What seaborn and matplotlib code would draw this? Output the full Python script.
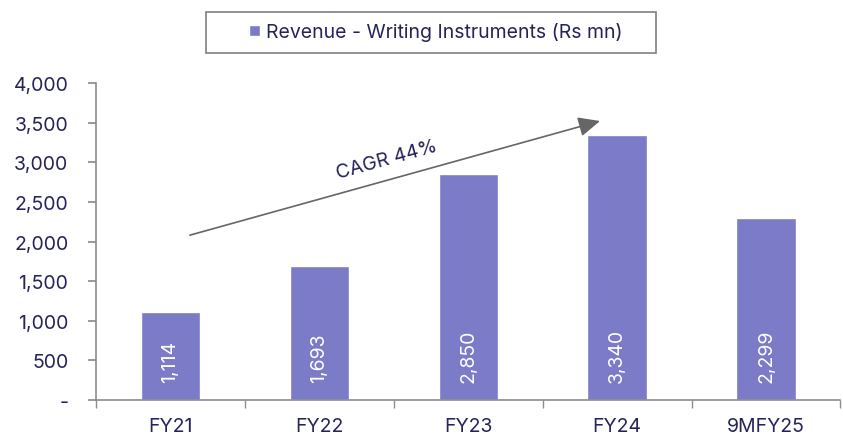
import matplotlib
matplotlib.use("Agg")
import matplotlib.pyplot as plt
import seaborn as sns
import pandas as pd
from matplotlib.ticker import FuncFormatter, FixedLocator
from matplotlib.patches import Rectangle

categories = ["FY21", "FY22", "FY23", "FY24", "9MFY25"]
revenue = [1114, 1693, 2850, 3340, 2299]
series_name = "Revenue - Writing Instruments (Rs mn)"
cagr_label = "CAGR 44%"

sns.set_theme(style="white")
plt.rcParams["font.family"] = ["Inter", "DejaVu Sans"]

navy = "#26235a"
bar_color = "#7b7bc8"
axis_grey = "#8c8c8c"

df = pd.DataFrame({"cat": categories, "val": revenue, "series": series_name})

W, H = 843, 435
fig = plt.figure(figsize=(W / 100, H / 100), dpi=100)
ax = fig.add_axes([0.114, 0.078, 0.883, 0.729])
sns.barplot(data=df, x="cat", y="val", hue="series", palette=[bar_color],
            width=0.4, ax=ax, saturation=1, legend=True)

ax.set_ylim(0, 4000)
ax.set_xlim(-0.5, len(categories) - 0.5)
ax.set_yticks(range(0, 4001, 500))
ax.yaxis.set_major_formatter(FuncFormatter(lambda v, p: "-" if v == 0 else f"{int(v):,}"))
ax.set_xlabel("")
ax.set_ylabel("")

for s in ["top", "right"]:
    ax.spines[s].set_visible(False)
for s in ["left", "bottom"]:
    ax.spines[s].set_color(axis_grey)
    ax.spines[s].set_linewidth(1.2)

ax.tick_params(axis="y", which="major", direction="out", length=6, color=axis_grey,
               labelsize=14, labelcolor=navy, left=True, pad=14)
ax.tick_params(axis="x", which="major", length=0, labelsize=14, labelcolor=navy, pad=12)
ax.xaxis.set_minor_locator(FixedLocator([i - 0.5 for i in range(len(categories) + 1)]))
ax.tick_params(axis="x", which="minor", direction="out", length=6, color=axis_grey, bottom=True)

for container in ax.containers:
    for rect, v in zip(container, revenue):
        ax.text(rect.get_x() + rect.get_width() / 2, 230, f"{v:,}", rotation=90,
                ha="center", va="bottom", color="white", fontsize=14)

ax.annotate("", xy=(2.885, 3520), xytext=(0.13, 2080),
            arrowprops=dict(arrowstyle="-|>,head_length=1.1,head_width=0.5",
                            color="#666666", lw=1.2, shrinkA=0, shrinkB=0))
ax.text(1.45, 3040, cagr_label, rotation=15.5, ha="center", va="center",
        color=navy, fontsize=14, rotation_mode="anchor")

# legend: frameless, with a separate box around it
leg = ax.legend(loc="center left", bbox_to_anchor=(249 / W, 1 - 33 / H),
                bbox_transform=fig.transFigure, frameon=False,
                fontsize=14, handlelength=0.55, handleheight=0.55, handletextpad=0.35,
                borderpad=0, borderaxespad=0)
for t in leg.get_texts():
    t.set_color(navy)
fig.patches.append(Rectangle((206 / W, 1 - 54 / H), 450 / W, 41 / H,
                             transform=fig.transFigure, fill=False,
                             edgecolor="#7f7f7f", linewidth=1.2, zorder=5))

fig.savefig("out.png", dpi=100)
